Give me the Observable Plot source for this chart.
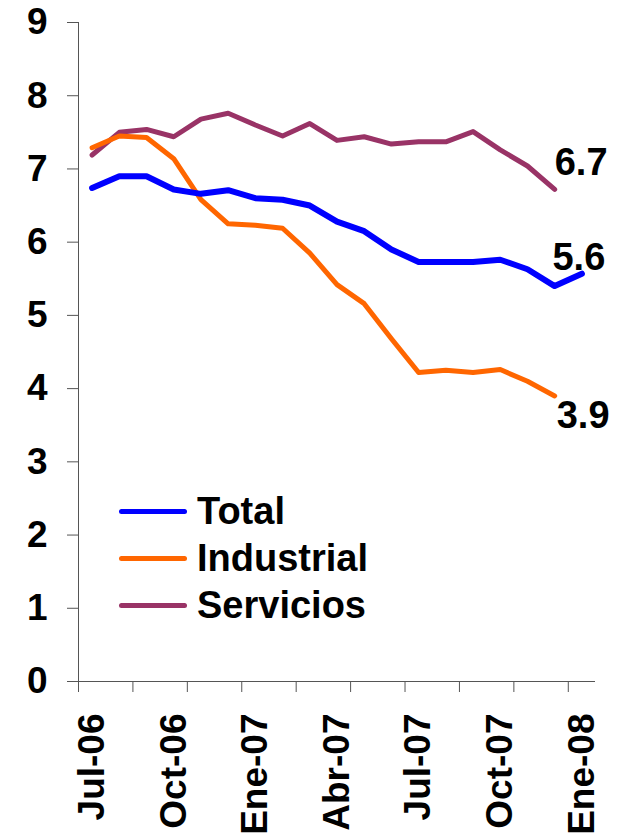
<!DOCTYPE html>
<html>
<head>
<meta charset="utf-8">
<script src="https://cdn.jsdelivr.net/npm/d3@7"></script>
<script src="https://cdn.jsdelivr.net/npm/@observablehq/plot@0.6"></script>
<style>
  html, body { margin: 0; padding: 0; background: white; }
  #wrap { position: relative; width: 628px; height: 836px; font-family: "Liberation Sans", Arial, sans-serif; }
  #legend { position: absolute; left: 119px; top: 488px; }
  .row { display: flex; align-items: center; height: 47px; font-size: 38px; font-weight: bold; color: black; }
  .sw { width: 68px; height: 5px; border-radius: 3px; margin-right: 10px; }
</style>
</head>
<body>
<div id="wrap"></div>
<script>
const months = ["Jul-06","Ago-06","Sep-06","Oct-06","Nov-06","Dic-06","Ene-07","Feb-07","Mar-07","Abr-07","May-07","Jun-07","Jul-07","Ago-07","Sep-07","Oct-07","Nov-07","Dic-07","Ene-08"];
const total      = [6.74,6.90,6.90,6.72,6.66,6.71,6.60,6.58,6.50,6.28,6.15,5.90,5.73,5.73,5.73,5.76,5.63,5.40,5.57];
const industrial = [7.29,7.45,7.43,7.14,6.58,6.25,6.23,6.19,5.85,5.42,5.16,4.68,4.22,4.25,4.22,4.26,4.10,3.90];
const servicios  = [7.19,7.50,7.54,7.44,7.68,7.76,7.60,7.45,7.62,7.39,7.44,7.34,7.37,7.37,7.51,7.26,7.04,6.72];
const seriesNames = ["Total","Industrial","Servicios"];
const seriesColors = ["#0000FF","#FF6600","#993366"];
const yTicks = [0,1,2,3,4,5,6,7,8,9];

const toRows = (arr) => arr.map((v, i) => ({i, v}));
const lastOf = (arr) => [{i: arr.length - 1, v: arr[arr.length - 1]}];
const boundaries = d3.range(-0.5, months.length - 1, 2);
const labelIdx = d3.range(0, months.length, 3);
const fmt = d3.format(".1f");
const font = "'Liberation Sans', Arial, sans-serif";

const chart = Plot.plot({
  width: 628,
  height: 836,
  marginLeft: 78,
  marginRight: 33,
  marginTop: 22,
  marginBottom: 155,
  x: {type: "linear", domain: [-0.5, months.length - 0.5], label: null},
  y: {domain: [0, 9], label: null},
  style: {fontFamily: font, fontWeight: "bold", color: "black", background: "white", overflow: "visible"},
  marks: [
    Plot.axisY(yTicks, {label: null, tickSize: 11, tickPadding: 20, tickFormat: d3.format("d"), fontSize: 37, fontWeight: "bold", fontFamily: font, stroke: "#555", fill: "black"}),
    Plot.axisX(boundaries, {label: null, tickSize: 11, tickFormat: () => "", stroke: "#555"}),
    Plot.axisX(labelIdx, {label: null, tickSize: 0, tickPadding: 32, tickRotate: -90, tickFormat: (i) => months[i], fontSize: 37, fontWeight: "bold", fontFamily: font, fill: "black"}),
    Plot.ruleX([-0.5], {stroke: "#555"}),
    Plot.ruleY([0], {stroke: "#555"}),
    Plot.line(toRows(servicios), {x: "i", y: "v", stroke: seriesColors[2], strokeWidth: 5, strokeLinejoin: "round", strokeLinecap: "round"}),
    Plot.line(toRows(industrial), {x: "i", y: "v", stroke: seriesColors[1], strokeWidth: 5, strokeLinejoin: "round", strokeLinecap: "round"}),
    Plot.line(toRows(total), {x: "i", y: "v", stroke: seriesColors[0], strokeWidth: 6, strokeLinejoin: "round", strokeLinecap: "round"}),
    Plot.text(lastOf(servicios), {x: "i", y: "v", text: (d) => fmt(d.v), textAnchor: "start", dx: 0, dy: -27, fontSize: 38, fontWeight: "bold", fontFamily: font, fill: "black"}),
    Plot.text(lastOf(total), {x: "i", y: "v", text: (d) => fmt(d.v), textAnchor: "middle", dx: -3, dy: -16, fontSize: 38, fontWeight: "bold", fontFamily: font, fill: "black"}),
    Plot.text(lastOf(industrial), {x: "i", y: "v", text: (d) => fmt(d.v), textAnchor: "start", dx: 2, dy: 20, fontSize: 38, fontWeight: "bold", fontFamily: font, fill: "black"})
  ]
});

const wrap = document.getElementById("wrap");
wrap.appendChild(chart);
const legend = document.createElement("div");
legend.id = "legend";
seriesNames.forEach((name, k) => {
  const row = document.createElement("div");
  row.className = "row";
  const sw = document.createElement("span");
  sw.className = "sw";
  sw.style.background = seriesColors[k];
  const label = document.createElement("span");
  label.textContent = name;
  row.appendChild(sw);
  row.appendChild(label);
  legend.appendChild(row);
});
wrap.appendChild(legend);
</script>
</body>
</html>
